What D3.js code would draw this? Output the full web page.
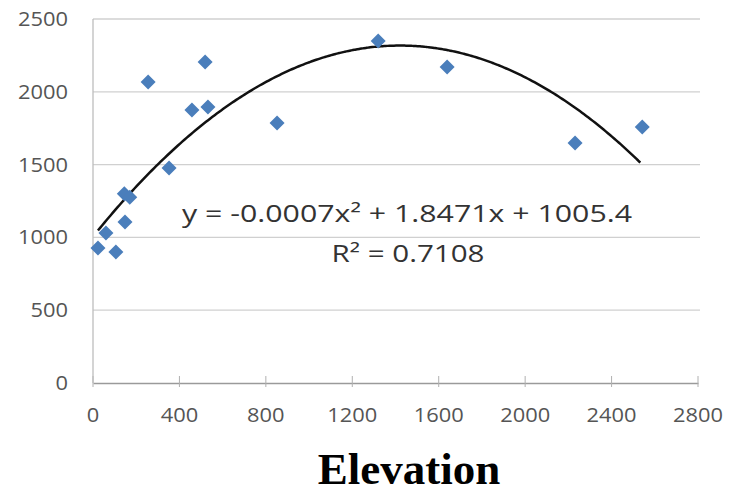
<!DOCTYPE html>
<html>
<head>
<meta charset="utf-8">
<script src="https://cdn.jsdelivr.net/npm/d3@7"></script>
<style>
  body { margin: 0; background: #fff; }
  svg { display: block; }
</style>
</head>
<body>
<svg id="chart" width="736" height="495"></svg>
<script>
// elevation vs value
const elevation = [23, 60, 106, 148, 145, 170, 255, 352, 458, 519, 532, 852, 1320, 1639, 2231, 2542];
const values    = [927, 1030, 900, 1106, 1300, 1275, 2067, 1477, 1875, 2205, 1896, 1786, 2349, 2170, 1648, 1758];
const xTicks = [0, 400, 800, 1200, 1600, 2000, 2400, 2800];
const yTicks = [0, 500, 1000, 1500, 2000, 2500];
// poly trendline coefficients (a x^2 + b x + c)
const trend = [-0.00065, 1.8471, 1005.4];
const eqLabel = "y = -0.0007x² + 1.8471x + 1005.4";
const r2Label = "R² = 0.7108";
const title = "Elevation";

const svg = d3.select("#chart");
const x = d3.scaleLinear().domain([0, 2800]).range([93, 698]);
const y = d3.scaleLinear().domain([0, 2500]).range([383, 19]);

// gridlines
svg.append("g").selectAll("line").data(yTicks.filter(d => d > 0)).join("line")
    .attr("x1", 93).attr("x2", 700)
    .attr("y1", d => y(d)).attr("y2", d => y(d))
    .attr("stroke", "#d0d0d0").attr("stroke-width", 1.3);

// axes
let xa = svg.append("g").attr("transform", "translate(0,383)")
    .call(d3.axisBottom(x).tickValues(xTicks).tickSize(0).tickPadding(0).tickFormat(""));
xa.select(".domain").attr("stroke", "#9a9a9a").attr("stroke-width", 1.3);
svg.append("g").selectAll("line").data(xTicks).join("line")
    .attr("x1", d => x(d)).attr("x2", d => x(d)).attr("y1", 376).attr("y2", 387)
    .attr("stroke", "#b0b0b0").attr("stroke-width", 1);
svg.append("line").attr("x1", 93).attr("x2", 93).attr("y1", 19).attr("y2", 383)
    .attr("stroke", "#bdbdbd").attr("stroke-width", 1.3);

// tick labels, a bit stretched like the original
svg.append("g").selectAll("text").data(xTicks).join("text")
    .attr("x", d => x(d)).attr("y", 422).attr("text-anchor", "middle")
    .attr("font-family", "Open Sans").attr("font-size", 20).attr("fill", "#555")
    .attr("textLength", d => String(d).length * 12.5).attr("lengthAdjust", "spacingAndGlyphs")
    .text(d => d);
svg.append("g").selectAll("text").data(yTicks).join("text")
    .attr("x", 68).attr("y", d => y(d) + 7).attr("text-anchor", "end")
    .attr("font-family", "Open Sans").attr("font-size", 20).attr("fill", "#555")
    .attr("textLength", d => String(d).length * 12.5).attr("lengthAdjust", "spacingAndGlyphs")
    .text(d => d);

// trendline over the data range
const xs = d3.range(d3.min(elevation), d3.max(elevation) + 1, 10);
const f = v => trend[0] * v * v + trend[1] * v + trend[2];
svg.append("path").datum(xs)
    .attr("d", d3.line().x(d => x(d)).y(d => y(f(d))).curve(d3.curveBasis))
    .attr("fill", "none").attr("stroke", "#111").attr("stroke-width", 2.5);

// diamond markers
svg.append("g").selectAll("path").data(elevation).join("path")
    .attr("transform", (d, i) => `translate(${x(d)},${y(values[i])})`)
    .attr("d", "M0,-7.5L7.5,0L0,7.5L-7.5,0Z")
    .attr("fill", "#4a7ebb");

// equation text
svg.append("text").attr("x", 407).attr("y", 222).attr("text-anchor", "middle")
    .attr("font-family", "Open Sans").attr("font-size", 24).attr("fill", "#333")
    .attr("textLength", 450).attr("lengthAdjust", "spacingAndGlyphs")
    .text(eqLabel);
svg.append("text").attr("x", 408).attr("y", 262).attr("text-anchor", "middle")
    .attr("font-family", "Open Sans").attr("font-size", 24).attr("fill", "#333")
    .attr("textLength", 153).attr("lengthAdjust", "spacingAndGlyphs")
    .text(r2Label);

svg.append("text").attr("x", 409).attr("y", 484).attr("text-anchor", "middle")
    .attr("font-family", "Liberation Serif").attr("font-weight", "bold")
    .attr("font-size", 45).attr("fill", "#000")
    .text(title);
</script>
</body>
</html>
